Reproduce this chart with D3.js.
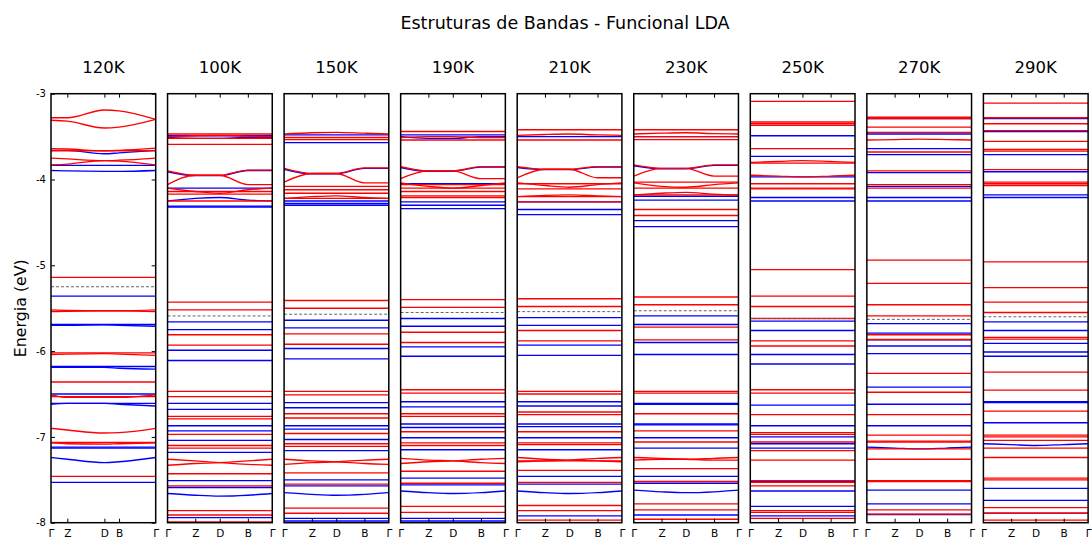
<!DOCTYPE html>
<html><head><meta charset="utf-8">
<script src="https://cdn.jsdelivr.net/npm/d3@7"></script>
<style>
html,body{margin:0;padding:0;background:#fff;}
svg{display:block;font-family:"DejaVu Sans",sans-serif;}
</style></head>
<body>
<svg id="chart" width="1092" height="544"></svg>
<script>
// ---------- DATA ----------
const chartTitle = "Estruturas de Bandas - Funcional LDA";
const yLabel = "Energia (eV)";
const temps = ["120K","100K","150K","190K","210K","230K","250K","270K","290K"];
const kLabels = ["Γ","Z","D","B","Γ"];
const kpos120 = [0, 0.156, 0.51, 0.65, 1];
const kposOther = [0, 0.265, 0.498, 0.767, 1];
const yTicks = [-3,-4,-5,-6,-7,-8];
const fermi = [-5.25,-5.59,-5.57,-5.55,-5.54,-5.53,-5.62,-5.63,-5.60];

// Bands: a number = flat band; an array = energies at the k-points Γ Z D B Γ
const red120 = [[-3.28,-3.28,-3.19,-3.20,-3.30],[-3.31,-3.32,-3.40,-3.39,-3.30],
  [-3.64,-3.645,-3.665,-3.66,-3.635],-3.665,[-3.75,-3.76,-3.78,-3.775,-3.75],[-3.83,-3.82,-3.78,-3.785,-3.83],
  -5.14,[-5.52,-5.525,-5.53,-5.53,-5.54],[-5.54,-5.535,-5.53,-5.53,-5.52],-6.02,[-6.04,-6.035,-6.03,-6.035,-6.05],
  -6.36,-6.53,[-6.51,-6.54,-6.54,-6.54,-6.51],[-6.90,-6.92,-6.955,-6.95,-6.90],-7.065,[-7.07,-7.08,-7.085,-7.08,-7.07],-7.46];
const blue120 = [[-3.66,-3.66,-3.70,-3.69,-3.66],-3.835,[-3.895,-3.90,-3.905,-3.905,-3.895],-5.36,
  -5.69,[-5.70,-5.70,-5.695,-5.70,-5.71],-6.18,[-6.19,-6.19,-6.19,-6.20,-6.21],-6.50,-6.61,[-6.62,-6.61,-6.61,-6.62,-6.64],
  -7.12,-7.13,[-7.24,-7.26,-7.30,-7.29,-7.24],-7.53];

const red100 = [-3.47,[-3.50,-3.49,-3.485,-3.495,-3.50],-3.52,-3.59,[-3.90,-3.95,-3.95,-3.89,-3.89],[-4.06,-3.95,-3.95,-4.06,-4.06],
  [-4.10,-4.14,-4.16,-4.12,-4.10],-4.14,-4.17,-4.25,-5.43,-5.52,-5.81,-5.93,-6.47,-6.53,-6.76,-6.79,-6.97,-7.10,-7.13,
  [-7.26,-7.28,-7.30,-7.32,-7.33],[-7.33,-7.31,-7.30,-7.28,-7.26],-7.43,-7.57,-7.86,-7.91,-7.99];
const blue100 = [-3.49,[-3.51,-3.52,-3.52,-3.51,-3.51],[-3.91,-3.955,-3.955,-3.895,-3.895],-4.10,[-4.25,-4.22,-4.21,-4.24,-4.25],
  -4.31,-4.32,-5.66,-5.75,-5.99,-6.11,-6.61,-6.68,-6.87,-6.93,-7.04,-7.18,-7.51,-7.59,[-7.66,-7.68,-7.69,-7.68,-7.66],-7.94,-8.0];

const red150 = [[-3.47,-3.455,-3.45,-3.46,-3.47],-3.51,-3.535,[-3.87,-3.93,-3.93,-3.865,-3.865],[-4.03,-3.93,-3.93,-4.04,-4.04],
  -4.08,-4.12,-4.16,[-4.22,-4.20,-4.19,-4.21,-4.22],-4.22,-5.41,-5.50,-5.80,-5.92,-6.47,-6.51,-6.73,-6.78,-6.96,-7.08,-7.11,
  [-7.26,-7.28,-7.29,-7.31,-7.32],[-7.32,-7.30,-7.29,-7.27,-7.26],-7.42,-7.55,-7.83,-7.89];
const blue150 = [-3.48,-3.57,[-3.88,-3.935,-3.935,-3.87,-3.87],-4.25,-4.28,-4.30,-5.64,-5.73,-5.97,-6.09,-6.60,-6.66,-6.87,-6.91,
  -7.03,-7.16,-7.50,-7.57,[-7.65,-7.67,-7.68,-7.67,-7.65],-7.95,-7.98];

const red190 = [-3.44,[-3.51,-3.50,-3.50,-3.51,-3.51],-3.54,[-3.85,-3.90,-3.90,-3.85,-3.85],[-3.99,-3.90,-3.90,-3.99,-3.99],
  [-4.04,-4.08,-4.10,-4.07,-4.04],-4.06,-4.10,-4.14,-4.19,-4.21,-5.40,-5.49,-5.78,-5.90,-6.45,-6.49,-6.73,-6.76,-6.94,-7.07,-7.10,
  [-7.25,-7.27,-7.28,-7.30,-7.31],[-7.31,-7.29,-7.28,-7.26,-7.25],-7.40,-7.54,-7.81,-7.88];
const blue190 = [-3.48,[-3.50,-3.52,-3.52,-3.50,-3.50],[-3.86,-3.905,-3.905,-3.855,-3.855],-4.05,-4.26,-4.30,-4.34,-5.62,-5.71,-5.95,
  -6.06,-6.59,-6.65,-6.85,-6.89,-7.01,-7.15,-7.48,-7.56,[-7.63,-7.65,-7.66,-7.65,-7.63],-7.95,-7.98];

const red210 = [-3.42,[-3.485,-3.475,-3.47,-3.48,-3.485],-3.54,[-3.85,-3.88,-3.88,-3.85,-3.85],[-3.98,-3.88,-3.88,-3.98,-3.98],
  [-4.04,-4.07,-4.09,-4.06,-4.04],-4.05,-4.11,[-4.20,-4.185,-4.18,-4.19,-4.20],-4.20,-4.26,-5.39,-5.48,-5.76,-5.88,-6.47,-6.50,
  -6.71,-6.74,-6.94,-7.07,-7.09,[-7.24,-7.26,-7.27,-7.28,-7.29],[-7.29,-7.28,-7.27,-7.25,-7.24],-7.28,-7.39,-7.53,-7.80,-7.86,-7.97];
const blue210 = [-3.50,[-3.86,-3.885,-3.885,-3.855,-3.855],-4.26,-4.35,-4.41,-5.61,-5.70,-5.93,-6.05,-6.59,-6.64,-6.85,-6.88,
  -7.01,-7.15,-7.46,-7.55,[-7.63,-7.65,-7.66,-7.65,-7.63],-7.92];

const red230 = [-3.42,[-3.47,-3.46,-3.455,-3.465,-3.47],-3.50,-3.535,[-3.83,-3.87,-3.87,-3.83,-3.83],[-3.96,-3.87,-3.87,-3.96,-3.96],
  -4.03,[-4.04,-4.08,-4.09,-4.06,-4.04],-4.10,[-4.18,-4.16,-4.15,-4.17,-4.18],-4.18,-4.35,-4.42,-5.37,-5.46,-5.72,-5.87,
  -6.47,-6.49,-6.73,-6.93,-7.06,[-7.24,-7.25,-7.26,-7.27,-7.27],[-7.27,-7.26,-7.26,-7.25,-7.24],-7.37,-7.52,-7.78,-7.85,-7.96];
const blue230 = [-3.50,[-3.84,-3.875,-3.875,-3.835,-3.835],-4.195,-4.24,-4.48,-4.55,-5.59,-5.69,-5.90,-6.04,-6.61,-6.62,-6.85,-6.86,
  -7.01,-7.13,-7.46,-7.54,[-7.62,-7.64,-7.65,-7.64,-7.62],-7.91];

const red250 = [-3.09,-3.33,-3.35,-3.37,-3.64,[-3.80,-3.79,-3.78,-3.79,-3.80],-3.81,[-3.95,-3.96,-3.97,-3.96,-3.95],-4.05,-4.10,-4.11,
  -5.05,-5.36,-5.48,-5.62,-5.88,-5.94,-6.45,-6.49,-6.74,-6.95,-6.97,-7.06,-7.16,-7.27,-7.51,-7.53,-7.57,-7.86,-7.88,-7.95];
const blue250 = [-3.49,-3.73,-3.97,-4.21,-4.25,-5.65,-5.76,-6.04,-6.15,-6.63,-6.87,-7.00,-7.08,-7.13,-7.52,-7.63,-7.81,-7.92];

const red270 = [-3.275,-3.29,-3.39,-3.45,[-3.54,-3.535,-3.53,-3.535,-3.54],-3.68,-3.90,-4.06,-4.10,
  -4.94,-5.21,-5.46,-5.59,-5.81,-5.865,-6.26,-6.48,-6.74,-6.98,-7.05,-7.06,-7.14,-7.26,-7.51,-7.52,-7.85,-7.90];
const blue270 = [-3.29,-3.47,-3.64,-3.71,-3.92,-4.08,-4.21,-4.25,-5.68,-5.79,-5.87,-5.94,-6.03,-6.42,-6.62,-6.87,
  [-7.12,-7.13,-7.14,-7.13,-7.12],-7.62,-7.78,-7.905];

const red290 = [-3.11,-3.28,-3.35,-3.43,-3.555,-3.65,-3.67,-3.885,-4.03,-4.05,-4.07,
  -4.96,-5.26,-5.43,-5.55,-5.84,-5.86,-6.245,-6.455,-6.70,-6.98,-7.00,-7.04,-7.13,-7.24,-7.48,-7.50,-7.825,-7.89,-7.97];
const blue290 = [-3.29,-3.44,-3.71,-3.91,-4.18,-4.21,-5.66,-5.76,-5.91,-6.01,-6.06,-6.59,-6.60,-6.835,
  [-7.08,-7.09,-7.10,-7.09,-7.08],-7.60,-7.74,-7.89];

const redBands = [red120,red100,red150,red190,red210,red230,red250,red270,red290];
const blueBands = [blue120,blue100,blue150,blue190,blue210,blue230,blue250,blue270,blue290];
const kposList = [kpos120,kposOther,kposOther,kposOther,kposOther,kposOther,kposOther,kposOther,kposOther];

// ---------- LAYOUT ----------
const svg = d3.select("#chart");
const left0 = 51, step = 116.55, pw = 104.7, plotTop = 93.7, plotBottom = 522.7;
const y = d3.scaleLinear().domain([-8,-3]).range([plotBottom, plotTop]);

svg.append("text").attr("x",565).attr("y",29).attr("text-anchor","middle")
  .attr("font-size",17.5).attr("fill","#000").text(chartTitle);
svg.append("text").attr("transform",`translate(26,${(plotTop+plotBottom)/2}) rotate(-90)`)
  .attr("text-anchor","middle").attr("font-size",15.8).attr("fill","#000").text(yLabel);

const defs = svg.append("defs");

temps.forEach((t,i) => {
  const x0 = left0 + i*step;
  const x = d3.scaleLinear().domain([0,1]).range([x0, x0+pw]);
  const kp = kposList[i];
  const g = svg.append("g");
  defs.append("clipPath").attr("id","clip"+i).append("rect")
    .attr("x",x0).attr("y",plotTop).attr("width",pw).attr("height",plotBottom-plotTop);
  const line = d3.line().x(d=>x(d[0])).y(d=>y(d[1])).curve(d3.curveMonotoneX);
  const pts = b => (typeof b === "number") ? [[0,b],[1,b]] : kp.map((k,j)=>[k,b[j]]);
  const bandG = g.append("g").attr("clip-path",`url(#clip${i})`);
  bandG.selectAll("path.dn").data(blueBands[i]).join("path").attr("class","dn")
    .attr("d",b=>line(pts(b))).attr("fill","none").attr("stroke","#0000ff").attr("stroke-width",1.35);
  bandG.selectAll("path.up").data(redBands[i]).join("path").attr("class","up")
    .attr("d",b=>line(pts(b))).attr("fill","none").attr("stroke","#ff0000").attr("stroke-width",1.35);
  bandG.append("path").attr("d",line([[0,fermi[i]],[1,fermi[i]]]))
    .attr("fill","none").attr("stroke","#666").attr("stroke-width",1).attr("stroke-dasharray","3,2");

  // axes
  const xb = d3.axisBottom(x).tickValues(kp).tickFormat((d,j)=>kLabels[j]).tickSizeInner(-4).tickSizeOuter(0).tickPadding(7);
  const ax = g.append("g").attr("transform",`translate(0,${plotBottom})`).call(xb);
  ax.select(".domain").remove();
  ax.selectAll("text").attr("font-size",10.5).attr("fill","#000").attr("font-family","DejaVu Sans");
  ax.selectAll("line").attr("stroke","#000");
  ax.selectAll(".tick").filter((d,j)=>j===0||j===kp.length-1).select("line").remove();
  const xt = d3.axisTop(x).tickValues(kp.slice(1,-1)).tickFormat("").tickSizeInner(-4).tickSizeOuter(0);
  const axt = g.append("g").attr("transform",`translate(0,${plotTop})`).call(xt);
  axt.select(".domain").remove();
  axt.selectAll("line").attr("stroke","#000");

  if (i === 0) {
    const yl = d3.axisLeft(y).tickValues(yTicks).tickFormat(d=>String(d)).tickSizeInner(-4).tickSizeOuter(0).tickPadding(5);
    const ay = g.append("g").attr("transform",`translate(${x0},0)`).call(yl);
    ay.select(".domain").remove();
    ay.selectAll("text").attr("font-size",10).attr("fill","#000").attr("font-family","DejaVu Sans");
    ay.selectAll("line").attr("stroke","#000");
    const yr = d3.axisRight(y).tickValues(yTicks).tickFormat("").tickSizeInner(-4).tickSizeOuter(0);
    const ayr = g.append("g").attr("transform",`translate(${x0+pw},0)`).call(yr);
    ayr.select(".domain").remove();
    ayr.selectAll("line").attr("stroke","#000");
  }

  g.append("rect").attr("x",x0).attr("y",plotTop).attr("width",pw).attr("height",plotBottom-plotTop)
    .attr("fill","none").attr("stroke","#000").attr("stroke-width",1.5);

  svg.append("text").attr("x",x0+pw/2).attr("y",73.3).attr("text-anchor","middle")
    .attr("font-size",16.5).attr("fill","#000").text(t);
});
</script>
</body></html>
